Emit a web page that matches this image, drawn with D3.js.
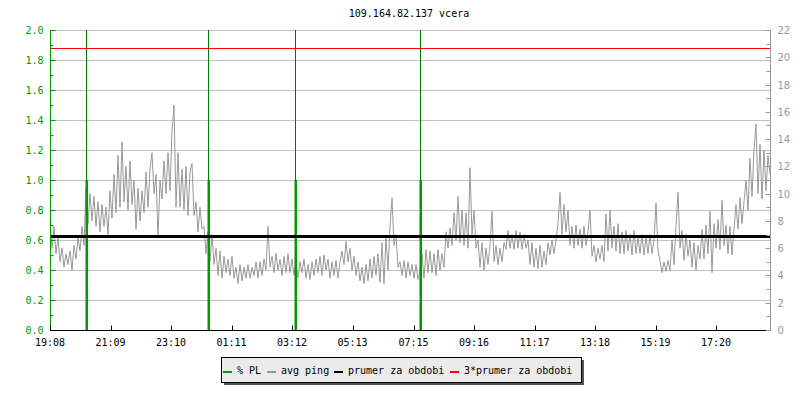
<!DOCTYPE html>
<html>
<head>
<meta charset="utf-8">
<script src="https://cdn.jsdelivr.net/npm/d3@7/dist/d3.min.js"></script>
<style>
  html, body { margin: 0; padding: 0; background: #fff; }
  svg { display: block; }
</style>
</head>
<body>
<svg id="chart" width="800" height="400"></svg>
<script>
// ---------------- data ----------------
const title = "109.164.82.137 vcera";
// x tick labels and their offsets (minutes since 19:08)
const xTickLabels = ["19:08","21:09","23:10","01:11","03:12","05:13","07:15","09:16","11:17","13:18","15:19","17:20"];
const xTickMinutes = [0,121,242,363,484,605,727,848,969,1090,1211,1332];
const periodMinutes = 1440;
// packet loss events (minutes since 19:08) and values (%)
const plMinutes = [72, 316, 490, 740];
const plValues = [1.0, 1.0, 1.0, 1.0];
// avg ping samples (ms), one every 4 minutes
const pingStepMinutes = 4;
const avgPing = [
8.0,6.0,7.6,5.6,6.8,5.0,6.0,4.6,5.6,4.8,
5.8,4.4,6.2,5.2,6.8,5.8,7.6,6.2,10.4,7.8,
10.0,8.0,9.8,7.6,9.4,7.2,9.2,7.6,9.0,7.0,
10.2,8.2,11.4,8.6,12.8,9.0,13.8,9.4,12.0,8.8,
12.4,9.2,11.0,7.4,10.4,8.0,10.2,8.6,11.6,9.0,
11.8,13.0,10.0,11.4,6.8,11.0,9.6,12.4,10.0,13.0,
10.2,14.6,16.5,9.0,13.0,9.0,11.8,8.8,12.0,8.4,
11.6,12.2,8.4,9.4,7.2,9.0,7.4,7.6,5.6,7.2,
5.0,7.0,4.8,6.0,4.0,5.8,3.8,5.4,4.2,5.2,
4.0,5.4,3.8,4.6,3.4,4.8,3.6,4.6,3.8,4.8,
3.8,4.6,4.0,5.0,3.8,5.0,4.0,5.2,4.4,7.6,
4.6,5.4,4.2,5.6,4.4,5.2,4.0,5.4,4.2,5.6,
4.2,5.2,4.0,5.0,3.8,5.0,4.2,5.2,3.8,4.8,
3.7,5.0,4.0,5.2,4.2,5.4,4.0,5.5,4.4,5.2,
3.8,5.0,4.0,5.1,3.8,5.0,5.8,4.8,6.5,5.0,
6.0,4.4,5.4,4.0,5.0,3.6,4.6,3.4,4.8,3.6,
5.2,3.8,5.4,4.0,5.6,3.5,6.4,3.4,6.8,4.4,
7.6,9.7,6.2,7.0,4.6,5.0,4.0,5.1,3.8,5.0,
4.0,4.8,3.8,4.8,3.7,4.4,5.6,3.8,5.9,4.2,
5.8,4.2,5.6,4.0,5.9,4.4,5.6,4.6,7.2,6.0,
7.5,6.2,8.6,6.6,9.8,6.4,8.8,6.2,8.6,6.0,
11.9,7.0,8.8,6.0,6.6,4.6,6.4,4.4,6.0,4.8,
6.2,8.7,5.0,6.2,4.8,6.0,5.0,6.4,5.9,7.3,
6.0,7.0,5.9,7.3,6.0,7.2,5.9,7.0,6.0,6.6,
4.8,6.4,4.6,6.0,4.5,6.2,4.6,5.8,4.8,6.4,
5.5,6.6,5.6,6.6,7.8,10.1,7.0,9.2,7.2,8.8,
6.2,7.6,6.0,7.7,6.2,7.4,6.0,7.6,6.2,7.2,
8.8,5.4,6.2,5.0,6.0,5.2,6.2,5.0,8.5,5.8,
8.8,6.0,7.6,5.8,7.8,5.6,7.2,5.6,7.3,5.8,
7.0,5.5,7.3,5.6,6.8,5.6,7.0,5.5,6.8,5.6,
7.0,5.6,6.6,9.3,5.8,5.1,4.2,5.0,4.3,5.1,
4.4,6.6,4.8,7.6,10.1,6.0,7.3,5.1,7.0,5.4,
6.6,4.6,6.4,4.4,6.2,5.2,7.4,5.2,7.7,5.6,
8.7,4.2,7.8,6.0,8.1,5.9,9.5,6.2,7.7,5.6,
7.6,5.5,7.4,9.2,7.4,9.7,7.8,9.4,11.0,8.8,
12.6,9.8,13.2,15.1,10.0,13.6,9.6,13.2,10.2,12.8,
11.4
];
const avgPingMean = 6.86;          // prumer za obdobi (ms)
const avgPingTriple = 20.68;       // 3*prumer za obdobi (ms)
const leftDomain = [0, 2];
const rightDomain = [0, 22];
const legendItems = [
  {label: "% PL", color: "#009900"},
  {label: "avg ping", color: "#999999"},
  {label: "prumer za obdobi", color: "#000000"},
  {label: "3*prumer za obdobi", color: "#ff0000"}
];

// ---------------- drawing ----------------
const svg = d3.select("#chart");
const font = "'DejaVu Sans Mono', monospace";
const L = 50, R = 770, T = 30, B = 330;

const x = d3.scaleLinear().domain([0, periodMinutes]).range([L, R]);
const yL = d3.scaleLinear().domain(leftDomain).range([B, T]);
const yR = d3.scaleLinear().domain(rightDomain).range([B, T]);

// title
svg.append("text").attr("x", 409).attr("y", 17).attr("text-anchor", "middle")
  .attr("font-family", font).attr("font-size", 10).attr("fill", "#000").text(title);

// grid lines
const gridVals = d3.range(0, 2.0001, 0.2);
svg.append("g").selectAll("line").data(gridVals).join("line")
  .attr("x1", L).attr("x2", R)
  .attr("y1", d => Math.round(yL(d)) + 0.5).attr("y2", d => Math.round(yL(d)) + 0.5)
  .attr("stroke", "#c0c0c0").attr("stroke-width", 1);

// avg ping line
const pingLine = d3.line()
  .x((d, i) => x(i * pingStepMinutes))
  .y(d => yR(d));
svg.append("path").datum(avgPing).attr("d", pingLine)
  .attr("fill", "none").attr("stroke", "#999999").attr("stroke-width", 1);

// packet loss event lines (thin, full height)
svg.append("g").selectAll("rect").data(plMinutes).join("rect")
  .attr("x", d => Math.round(x(d))).attr("width", 1)
  .attr("y", T).attr("height", B - T)
  .attr("fill", "#007700");

// packet loss bars
svg.append("g").selectAll("rect").data(plMinutes).join("rect")
  .attr("x", d => Math.round(x(d)) - 0.5)
  .attr("width", 2.5)
  .attr("y", (d, i) => yL(plValues[i]))
  .attr("height", (d, i) => B - yL(plValues[i]))
  .attr("fill", "#009900");

// mean line
svg.append("rect").attr("x", L).attr("width", R - L)
  .attr("y", Math.round(yR(avgPingMean)) - 1).attr("height", 3)
  .attr("fill", "#000");
// 3*mean line
svg.append("rect").attr("x", L).attr("width", R - L)
  .attr("y", Math.round(yR(avgPingTriple))).attr("height", 1)
  .attr("fill", "#ff0000");

// left axis (green)
const leftAxis = svg.append("g").attr("transform", `translate(${L + 0.5},0)`);
leftAxis.append("line").attr("y1", T).attr("y2", B + 1).attr("stroke", "#009900");
const leftMinor = d3.range(0, 2.0001, 0.1);
leftAxis.selectAll("line.tk").data(leftMinor).join("line").attr("class", "tk")
  .attr("x1", 0).attr("x2", (d, i) => i % 2 === 0 ? 5 : 3)
  .attr("y1", d => Math.round(yL(d)) + 0.5).attr("y2", d => Math.round(yL(d)) + 0.5)
  .attr("stroke", "#009900");
leftAxis.selectAll("text").data(gridVals).join("text")
  .attr("x", -7).attr("y", d => yL(d) + 4)
  .attr("text-anchor", "end").attr("font-family", font).attr("font-size", 10)
  .attr("fill", "#009900").text(d => d.toFixed(1));

// right axis (gray)
const rightAxis = svg.append("g").attr("transform", `translate(${R + 0.5},0)`);
rightAxis.append("line").attr("y1", T).attr("y2", B + 1).attr("stroke", "#999999");
const rightMinor = d3.range(0, 22.001, 1);
rightAxis.selectAll("line.tk").data(rightMinor).join("line").attr("class", "tk")
  .attr("x1", 0).attr("x2", (d, i) => i % 2 === 0 ? -5 : -4)
  .attr("y1", d => Math.round(yR(d)) + 0.5).attr("y2", d => Math.round(yR(d)) + 0.5)
  .attr("stroke", "#999999");
rightAxis.selectAll("text").data(d3.range(0, 22.001, 2)).join("text")
  .attr("x", 7).attr("y", d => yR(d) + 4)
  .attr("text-anchor", "start").attr("font-family", "'DejaVu Sans', sans-serif").attr("font-size", 10)
  .attr("fill", "#999999").text(d => d);

// bottom axis (black)
const bottom = svg.append("g").attr("transform", `translate(0,${B + 0.5})`);
bottom.append("line").attr("x1", L).attr("x2", R - 4).attr("stroke", "#000");
bottom.selectAll("line.tk").data(xTickMinutes).join("line").attr("class", "tk")
  .attr("x1", d => Math.round(x(d)) + 0.5).attr("x2", d => Math.round(x(d)) + 0.5)
  .attr("y1", 0).attr("y2", -5).attr("stroke", "#000");
bottom.selectAll("text").data(xTickMinutes).join("text")
  .attr("x", d => x(d)).attr("y", 15)
  .attr("text-anchor", "middle").attr("font-family", font).attr("font-size", 10)
  .attr("fill", "#000").text((d, i) => xTickLabels[i]);

// legend
const lg = svg.append("g");
lg.append("rect").attr("x", 224).attr("y", 360).attr("width", 360).attr("height", 25).attr("fill", "#555");
lg.append("rect").attr("x", 221.5).attr("y", 357.5).attr("width", 360).attr("height", 25)
  .attr("fill", "#ebebeb").attr("stroke", "#000");
const legendX = [223, 267, 334, 450];
legendItems.forEach((it, i) => {
  lg.append("line").attr("x1", legendX[i]).attr("x2", legendX[i] + 9)
    .attr("y1", 372).attr("y2", 372).attr("stroke", it.color).attr("stroke-width", 2);
  lg.append("text").attr("x", legendX[i] + 14).attr("y", 374)
    .attr("font-family", font).attr("font-size", 10).attr("fill", "#000").text(it.label);
});
</script>
</body>
</html>
